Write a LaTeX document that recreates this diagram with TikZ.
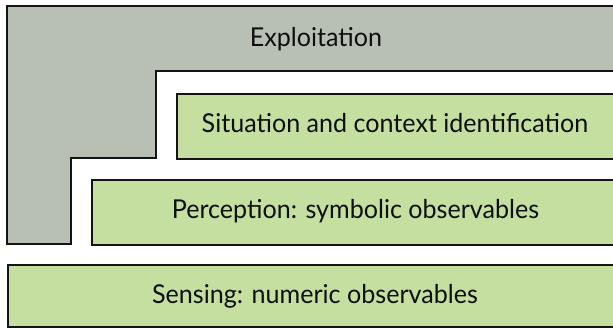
\documentclass[tikz,border=0pt]{standalone}
\usepackage{fontspec}
\setmainfont{Lato}
\newfontfamily\layerfont[FakeStretch=0.965]{Lato}
\definecolor{explfill}{RGB}{184,192,180}
\definecolor{boxfill}{RGB}{197,223,160}
\definecolor{edge}{RGB}{20,20,20}
\definecolor{txt}{RGB}{15,15,15}
\begin{document}
\begin{tikzpicture}[x=1pt,y=-1pt,
  layerbox/.style={draw=edge, line width=2pt, fill=boxfill, anchor=north west, inner sep=0pt},
  expl/.style={draw=edge, line width=2pt, fill=explfill},
  lbl/.style={font=\layerfont\fontsize{26}{30}\selectfont, anchor=base, inner sep=0pt, text=txt}]
\useasboundingbox (0,0) rectangle (613,330);
\clip (0,0) rectangle (613,330);
\fill[white] (0,0) rectangle (613,330);
\draw[expl] (7,6) -- (640,6) -- (640,71) -- (156,71) -- (156,158) -- (71,158) -- (71,244) -- (7,244) -- cycle;
\node[layerbox, minimum width=470pt, minimum height=65pt] (sit) at (176,93) {};
\node[layerbox, minimum width=550pt, minimum height=65pt] (per) at (91,179) {};
\node[layerbox, minimum width=640pt, minimum height=62pt] (sen) at (7,264) {};
\node[lbl] (expltext) at (316,46.5) {Exploitation};
\node[lbl] (sittext) at (395,132) {Situation and context identification};
\node[lbl] (pertext) at (355.5,218) {Perception: symbolic observables};
\node[lbl] (sentext) at (315,303) {Sensing: numeric observables};
\end{tikzpicture}
\end{document}
